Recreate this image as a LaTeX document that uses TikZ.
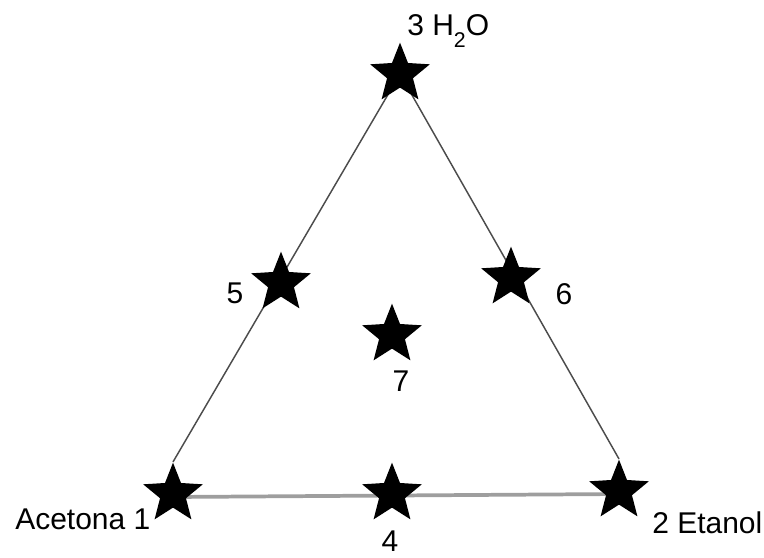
\documentclass[tikz,border=0pt]{standalone}
\usepackage{fontspec}
\setmainfont{Liberation Sans}
\usetikzlibrary{shapes.geometric,backgrounds}

\begin{document}
\begin{tikzpicture}[x=0.75pt,y=-0.75pt,
  pt/.style={star,star points=5,star point ratio=2.3,fill=black,draw=none,inner sep=0pt,minimum size=47pt},
  lbl/.style={inner sep=0pt,font=\fontsize{22.5}{27}\selectfont},
  side/.style={draw=black!70,line width=1.1pt},
  base/.style={draw=black!38,line width=2.8pt}
]
\useasboundingbox (0,0) rectangle (764,557);
% componentes puros
\node[pt] (s1) at (173,494) {};
\node[pt] (s2) at (619,491) {};
\node[pt] (s3) at (400,74) {};
% mezclas
\node[pt] (s4) at (392,494) {};
\node[pt] (s5) at (281,283) {};
\node[pt] (s6) at (511,278) {};
\node[pt] (s7) at (392,335) {};

\begin{scope}[on background layer]
\draw[side] (s1.north) -- (s3.center);
\draw[side] (s3.center) -- (s2.north);
\draw[base] ([yshift=-2.25pt]s1.center) -- ([yshift=-2.25pt]s2.center);
\end{scope}

\node[lbl,anchor=base west] (t1) at (15,529) {Acetona 1};
\node[lbl,anchor=base west] (t2) at (652,533) {2 Etanol};
\node[lbl,anchor=base west] (t3) at (407,35) {3 H\raisebox{-9pt}{\fontsize{16}{16}\selectfont 2}O};
\node[lbl] (t4) at (390,541) {4};
\node[lbl] (t5) at (235,293) {5};
\node[lbl] (t6) at (564,294) {6};
\node[lbl] (t7) at (401,381) {7};
\end{tikzpicture}
\end{document}
